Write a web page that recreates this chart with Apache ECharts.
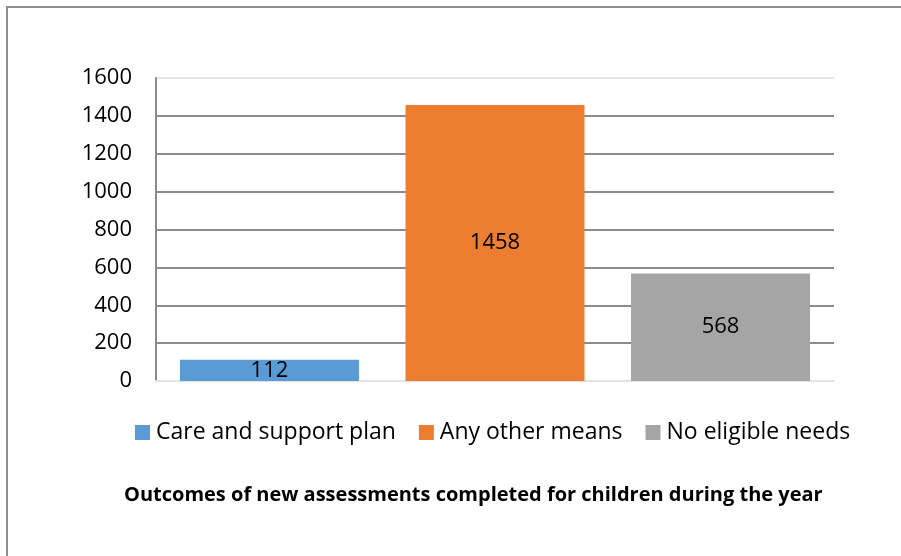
<!DOCTYPE html>
<html>
<head>
<meta charset="utf-8">
<script src="https://cdn.jsdelivr.net/npm/echarts@6/dist/echarts.min.js"></script>
<style>html,body{margin:0;padding:0;background:#fff;}#c{width:901px;height:556px;}</style>
</head>
<body>
<div id="c"></div>
<script>
const seriesNames = ['Care and support plan', 'Any other means', 'No eligible needs'];
const seriesValues = [112, 1458, 568];
const seriesColors = ['#5b9bd5', '#ed7d31', '#a5a5a5'];
const yTicks = [0, 200, 400, 600, 800, 1000, 1200, 1400, 1600];
const chartTitle = 'Outcomes of new assessments completed for children during the year';

const FONT = '"Open Sans", sans-serif';
const chart = echarts.init(document.getElementById('c'), null, {renderer: 'canvas'});
const gridLineColors = yTicks.map((v, i) => (i === 0 || i === yTicks.length - 1) ? '#e3e3e3' : '#8c8c8c');

chart.setOption({
  animation: false,
  backgroundColor: '#fff',
  graphic: [{
    type: 'rect',
    shape: {x: 7, y: 7, width: 1200, height: 1200},
    style: {fill: 'none', stroke: '#8f8f8f', lineWidth: 2},
    silent: true
  }],
  title: {
    text: chartTitle,
    left: 119,
    top: 480,
    textStyle: {fontFamily: FONT, fontSize: 20, fontWeight: 'bold', color: '#000'}
  },
  legend: {
    data: seriesNames,
    left: 130,
    top: 416,
    icon: 'rect',
    itemWidth: 15,
    itemHeight: 15,
    itemGap: 23,
    textStyle: {fontFamily: FONT, fontSize: 23, color: '#000', padding: [0, 0, 0, 1]}
  },
  grid: {left: 156, right: 67, top: 78, bottom: 175, containLabel: false},
  xAxis: {
    type: 'category',
    data: [''],
    axisLine: {show: true, lineStyle: {color: '#e3e3e3', width: 2}},
    axisTick: {show: false},
    axisLabel: {show: false}
  },
  yAxis: {
    type: 'value',
    min: 0,
    max: 1600,
    interval: 200,
    axisLine: {show: true, lineStyle: {color: '#8c8c8c', width: 2}},
    axisTick: {show: false},
    axisLabel: {fontFamily: FONT, fontSize: 22, color: '#000', margin: 24, formatter: v => String(v)},
    splitLine: {show: true, lineStyle: {color: gridLineColors, width: 2}}
  },
  series: seriesNames.map((name, i) => ({
    name: name,
    type: 'bar',
    data: [seriesValues[i]],
    barWidth: 179,
    barGap: '26%',
    itemStyle: {color: seriesColors[i]},
    label: {show: true, position: 'inside', color: '#000', fontFamily: FONT, fontSize: 22}
  }))
});
</script>
</body>
</html>
